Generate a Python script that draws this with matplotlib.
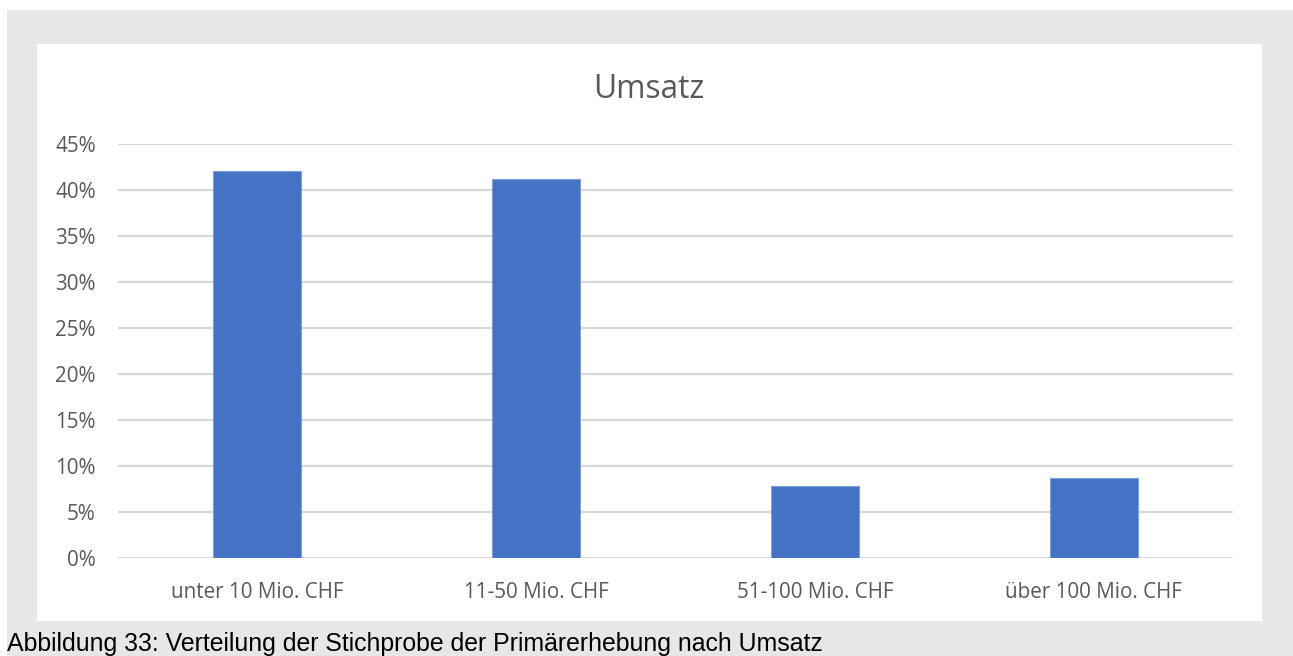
import matplotlib.pyplot as plt
from matplotlib.patches import Rectangle
from matplotlib.ticker import FuncFormatter

categories = ["unter 10 Mio. CHF", "11-50 Mio. CHF", "51-100 Mio. CHF", "über 100 Mio. CHF"]
shares = [42.1, 41.2, 7.8, 8.7]
yticks = [0, 5, 10, 15, 20, 25, 30, 35, 40, 45]

W, H = 1293, 656
fig = plt.figure(figsize=(W / 100, H / 100), dpi=100, facecolor="white")

# grey page band and the white chart area on top of it
fig.patches.append(Rectangle((7 / W, 0), 1 - 7 / W, 1 - 10 / H,
                             transform=fig.transFigure, facecolor="#e6e7e8",
                             edgecolor="none", zorder=-2))
fig.patches.append(Rectangle((37 / W, 1 - 621 / H), (1262 - 37) / W, (621 - 44) / H,
                             transform=fig.transFigure, facecolor="white",
                             edgecolor="none", zorder=-1))

ax = fig.add_axes([118 / W, 1 - 558 / H, (1233 - 118) / W, (558 - 144) / H])
ax.set_facecolor("none")
ax.set_zorder(2)

x = range(len(categories))
ax.bar(x, shares, width=0.316, color="#4472c4", edgecolor="#7f9fd8",
       linewidth=0.8, zorder=3)

ax.set_xlim(-0.5, len(categories) - 0.5)
ax.set_ylim(0, 45)
ax.set_yticks(yticks)
ax.yaxis.set_major_formatter(FuncFormatter(lambda v, _: f"{v:.0f}%"))
ax.set_xticks(list(x))
ax.set_xticklabels(categories)

ax.grid(axis="y", color="#d9d9d9", linewidth=1.6, zorder=0)
for s in ax.spines.values():
    s.set_visible(False)
ax.tick_params(length=0, labelsize=14.9, labelcolor="#595959")
ax.tick_params(axis="y", pad=16)
ax.tick_params(axis="x", pad=17)
for lbl in ax.get_xticklabels() + ax.get_yticklabels():
    lbl.set_family("Open Sans")

fig.text(649 / W, 1 - 89 / H, "Umsatz", ha="center", va="center",
         fontsize=22.8, color="#595959", family="Open Sans")

fig.text(7 / W, 1 - 644 / H,
         "Abbildung 33: Verteilung der Stichprobe der Primärerhebung nach Umsatz",
         ha="left", va="center", fontsize=17.9, color="black",
         family="Liberation Sans")

fig.savefig("out.png", dpi=100)
